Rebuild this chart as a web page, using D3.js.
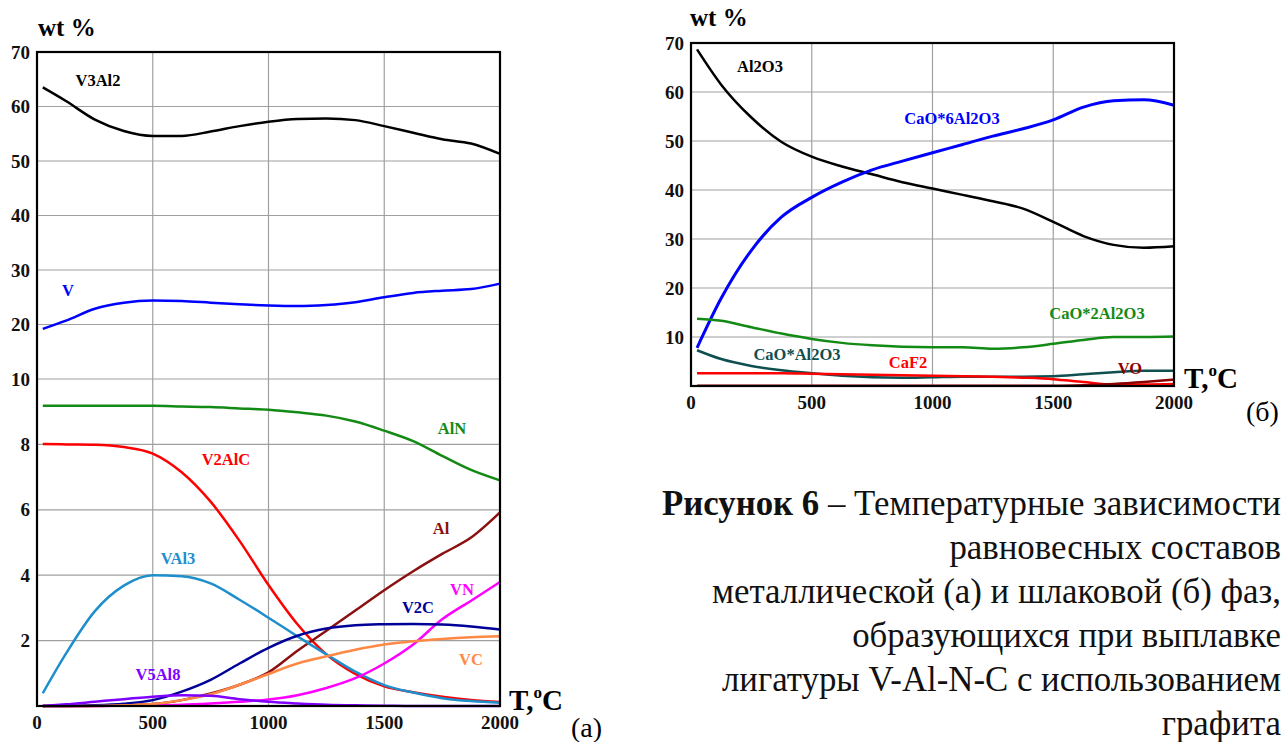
<!DOCTYPE html>
<html>
<head>
<meta charset="utf-8">
<script src="https://cdn.jsdelivr.net/npm/d3@7/dist/d3.min.js"></script>
<style>
  body { margin: 0; background: #fff; }
  svg { display: block; font-family: "Liberation Serif", "Times New Roman", serif; }
  .grid line { stroke: #a0a0a0; stroke-width: 1.2; }
  .tick-label { font-weight: bold; font-size: 19px; fill: #111; }
  .curve-label { font-weight: bold; font-size: 16.5px; }
</style>
</head>
<body>
<svg id="chart" width="1285" height="742"></svg>
<script>
// temperature grid, deg C (same for both panels)
const temps = [25, 125, 250, 375, 500, 625, 750, 875, 1000, 1125, 1250, 1375, 1500, 1625, 1750, 1875, 2000];

// (a) metal phase, wt %
const v3al2 = [63.5, 61.0, 57.6, 55.5, 54.6, 54.6, 55.4, 56.4, 57.2, 57.7, 57.8, 57.5, 56.4, 55.2, 54.0, 53.2, 51.3];
const vMetal = [19.2, 20.7, 22.9, 24.0, 24.4, 24.3, 24.0, 23.7, 23.5, 23.4, 23.6, 24.1, 25.0, 25.8, 26.2, 26.5, 27.5];
const aln = [9.18, 9.18, 9.18, 9.18, 9.18, 9.16, 9.14, 9.10, 9.06, 8.98, 8.88, 8.70, 8.42, 8.10, 7.65, 7.22, 6.90];
const v2alc = [8.01, 8.0, 7.99, 7.92, 7.72, 7.15, 6.25, 5.05, 3.7, 2.5, 1.58, 0.98, 0.6, 0.42, 0.28, 0.18, 0.12];
const val3 = [0.39, 1.6, 2.9, 3.68, 4.0, 3.97, 3.75, 3.25, 2.7, 2.13, 1.58, 1.05, 0.64, 0.41, 0.24, 0.15, 0.10];
const alMetal = [0, 0, 0.01, 0.03, 0.06, 0.18, 0.38, 0.65, 1.03, 1.69, 2.3, 2.92, 3.54, 4.12, 4.65, 5.15, 5.92];
const vc = [0, 0, 0, 0.02, 0.06, 0.18, 0.36, 0.65, 0.98, 1.3, 1.52, 1.72, 1.88, 1.98, 2.05, 2.1, 2.13];
const v2c = [0, 0, 0.02, 0.07, 0.18, 0.44, 0.8, 1.3, 1.78, 2.15, 2.37, 2.47, 2.5, 2.51, 2.49, 2.43, 2.34];
const vn = [0, 0, 0, 0.01, 0.02, 0.04, 0.08, 0.13, 0.2, 0.33, 0.55, 0.85, 1.3, 1.88, 2.65, 3.22, 3.79];
const v5al8 = [0, 0.05, 0.13, 0.21, 0.28, 0.33, 0.31, 0.21, 0.13, 0.08, 0.04, 0.02, 0.01, 0, 0, 0, 0];

// (б) slag phase, wt %
const al2o3 = [68.7, 61.5, 54.8, 49.8, 46.8, 44.8, 43.2, 41.6, 40.3, 39.0, 37.7, 36.2, 33.5, 30.6, 28.8, 28.2, 28.5];
const cao6 = [7.8, 17.9, 27.7, 34.5, 38.5, 41.6, 44.1, 45.9, 47.6, 49.3, 51.0, 52.5, 54.3, 56.9, 58.2, 58.4, 57.3];
const cao2 = [13.7, 13.3, 12.0, 10.7, 9.6, 8.8, 8.3, 8.0, 7.9, 7.9, 7.6, 7.9, 8.6, 9.4, 10.0, 10.0, 10.1];
const cao1 = [7.3, 5.5, 4.1, 3.2, 2.6, 2.1, 1.8, 1.7, 1.8, 1.9, 1.9, 1.9, 2.0, 2.4, 2.8, 3.1, 3.1];
const caf2 = [2.6, 2.6, 2.6, 2.6, 2.5, 2.4, 2.3, 2.2, 2.1, 2.0, 1.9, 1.7, 1.4, 0.8, 0.3, 0.3, 0.4];
const vo = [0.05, 0.05, 0.05, 0.05, 0.05, 0.05, 0.05, 0.05, 0.05, 0.05, 0.05, 0.05, 0.05, 0.15, 0.4, 0.8, 1.3];

const xTicks = [0, 500, 1000, 1500, 2000];
const yTicksA = [2, 4, 6, 8, 10, 20, 30, 40, 50, 60, 70];
const yTicksB = [10, 20, 30, 40, 50, 60, 70];

const seriesA = [
    { name: "V3Al2", values: v3al2, color: "#000000", lx: 98, ly: 80 },
    { name: "V", values: vMetal, color: "#0000ff", lx: 68, ly: 290 },
    { name: "AlN", values: aln, color: "#138a13", lx: 452, ly: 428 },
    { name: "V2AlC", values: v2alc, color: "#ff0000", lx: 226, ly: 459 },
    { name: "Al", values: alMetal, color: "#8b1010", lx: 441, ly: 528 },
    { name: "VAl3", values: val3, color: "#1e8fcc", lx: 178, ly: 558 },
    { name: "VN", values: vn, color: "#ff00ff", lx: 462, ly: 589 },
    { name: "V2C", values: v2c, color: "#000099", lx: 418, ly: 607 },
    { name: "VC", values: vc, color: "#ff8844", lx: 471, ly: 659 },
    { name: "V5Al8", values: v5al8, color: "#8000ff", lx: 158, ly: 674 }
];

const seriesB = [
    { name: "Al2O3", values: al2o3, color: "#000000", lx: 760, ly: 66 },
    { name: "CaO*6Al2O3", values: cao6, color: "#0000ff", lx: 952, ly: 118, width: 3 },
    { name: "CaO*2Al2O3", values: cao2, color: "#138a13", lx: 1097, ly: 313 },
    { name: "CaO*Al2O3", values: cao1, color: "#0f4f4f", lx: 797, ly: 354 },
    { name: "CaF2", values: caf2, color: "#ff0000", lx: 908, ly: 362 },
    { name: "VO", values: vo, color: "#8b0000", lx: 1130, ly: 368 }
];

const captionLines = [
    ["Рисунок 6", " – Температурные зависимости"],
    ["", "равновесных составов"],
    ["", "металлической (а) и шлаковой (б) фаз,"],
    ["", "образующихся при выплавке"],
    ["", "лигатуры V-Al-N-C с использованием"],
    ["", "графита"]
];

const svg = d3.select("#chart");

function drawPanel(opts) {
    const { x, y, series, yTicks, left, right, top, bottom } = opts;
    const g = svg.append("g");

    // grid
    const grid = g.append("g").attr("class", "grid");
    grid.selectAll(".gx")
        .data(xTicks.slice(1, -1))
        .enter().append("line")
        .attr("x1", d => x(d)).attr("x2", d => x(d))
        .attr("y1", top).attr("y2", bottom);
    grid.selectAll(".gy")
        .data(yTicks.slice(0, -1))
        .enter().append("line")
        .attr("x1", left).attr("x2", right)
        .attr("y1", d => y(d)).attr("y2", d => y(d));

    // curves
    const line = d3.line()
        .x((d, i) => x(temps[i]))
        .y(d => y(d))
        .curve(d3.curveMonotoneX);

    g.selectAll(".curve")
        .data(series)
        .enter().append("path")
        .attr("fill", "none")
        .attr("stroke", d => d.color)
        .attr("stroke-width", d => d.width || 2.5)
        .attr("stroke-linejoin", "round")
        .attr("d", d => line(d.values));

    g.selectAll(".curve-label")
        .data(series)
        .enter().append("text")
        .attr("class", "curve-label")
        .attr("x", d => d.lx)
        .attr("y", d => d.ly)
        .attr("dy", "0.35em")
        .attr("text-anchor", "middle")
        .attr("fill", d => d.color)
        .text(d => d.name);

    // frame
    g.append("rect")
        .attr("x", left).attr("y", top)
        .attr("width", right - left).attr("height", bottom - top)
        .attr("fill", "none")
        .attr("stroke", "#000")
        .attr("stroke-width", 2.2);

    // tick labels
    g.selectAll(".ylab")
        .data(yTicks)
        .enter().append("text")
        .attr("class", "tick-label")
        .attr("x", left - 7)
        .attr("y", d => y(d))
        .attr("dy", "0.35em")
        .attr("text-anchor", "end")
        .text(d => d);

    g.selectAll(".xlab")
        .data(xTicks)
        .enter().append("text")
        .attr("class", "tick-label")
        .attr("x", d => x(d))
        .attr("y", bottom + 16)
        .attr("dy", "0.35em")
        .attr("text-anchor", "middle")
        .text(d => d);

    // axis titles
    g.append("text")
        .attr("x", opts.wtX).attr("y", opts.wtY)
        .attr("font-weight", "bold").attr("font-size", 25)
        .text("wt %");

    const tc = g.append("text")
        .attr("x", opts.tX).attr("y", opts.tY)
        .attr("font-weight", "bold").attr("font-size", 29);
    tc.append("tspan").text("T,");
    tc.append("tspan").attr("font-size", 17).attr("dy", -12).text("o");
    tc.append("tspan").attr("dy", 12).text("C");

    g.append("text")
        .attr("x", opts.pX).attr("y", opts.pY)
        .attr("font-size", 28)
        .text(opts.panel);
}

// (a): broken axis, 0..10 and 10..70 take equal heights
const xA = d3.scaleLinear().domain([0, 2000]).range([37, 500]);
const yA = d3.scaleLinear().domain([0, 10, 70]).range([706, 379, 52]);

drawPanel({
    x: xA, y: yA, series: seriesA, yTicks: yTicksA,
    left: 37, right: 500, top: 52, bottom: 706,
    wtX: 38, wtY: 36, tX: 509, tY: 710, pX: 571, pY: 737, panel: "(a)"
});

// (б)
const xB = d3.scaleLinear().domain([0, 2000]).range([691, 1174]);
const yB = d3.scaleLinear().domain([0, 70]).range([386, 43]);

drawPanel({
    x: xB, y: yB, series: seriesB, yTicks: yTicksB,
    left: 691, right: 1174, top: 43, bottom: 386,
    wtX: 690, wtY: 26, tX: 1184, tY: 388, pX: 1246, pY: 421, panel: "(б)"
});

// caption
const cap = svg.append("g")
    .attr("font-size", 34.8)
    .attr("fill", "#111");

captionLines.forEach((parts, i) => {
    const t = cap.append("text")
        .attr("x", 1281)
        .attr("y", 515 + i * 44)
        .attr("text-anchor", "end");
    if (parts[0]) t.append("tspan").attr("font-weight", "bold").text(parts[0]);
    t.append("tspan").text(parts[1]);
});
</script>
</body>
</html>
